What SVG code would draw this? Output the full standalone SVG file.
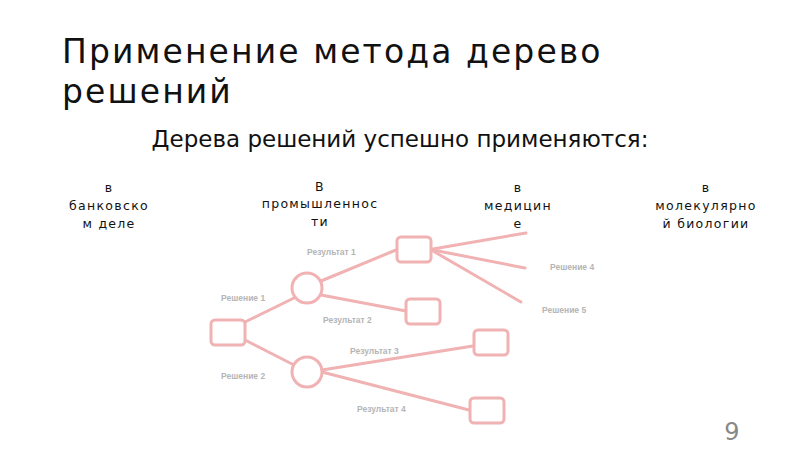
<svg xmlns="http://www.w3.org/2000/svg" width="800" height="449" viewBox="0 0 800 449">
<style>
.t{font-family:"DejaVu Sans","Liberation Sans",sans-serif;fill:#111}
.c{font-family:"DejaVu Sans",sans-serif;font-size:12.5px;fill:#111;text-anchor:middle;letter-spacing:1.3px}
.s{font-family:"Liberation Sans",sans-serif;font-size:8.5px;font-weight:bold;fill:#b5b5b5}
.n{fill:#fff;stroke:#f0b2b2;stroke-width:3}
.e{stroke:#f0b2b2;stroke-width:3;fill:none;stroke-linecap:round}
</style>
<rect width="800" height="449" fill="#fff"/>
<g id="title">
<text class="t" x="62" y="63" font-size="33" letter-spacing="2.1">Применение метода дерево</text>
<text class="t" x="62" y="103" font-size="33" letter-spacing="2.1">решений</text>
</g>
<text class="t" x="400" y="147" font-size="23" text-anchor="middle">Дерева решений успешно применяются:</text>
<g id="areas">
<text class="c" x="109" y="192">в</text>
<text class="c" x="109" y="210">банковско</text>
<text class="c" x="109" y="228">м деле</text>
<text class="c" x="320" y="191">В</text>
<text class="c" x="320" y="208">промышленнос</text>
<text class="c" x="320" y="226">ти</text>
<text class="c" x="518" y="192">в</text>
<text class="c" x="518" y="210">медицин</text>
<text class="c" x="518" y="228">е</text>
<text class="c" x="706" y="192">в</text>
<text class="c" x="706" y="210">молекулярно</text>
<text class="c" x="706" y="228">й биологии</text>
</g>
<g id="connectors">
<line class="e" x1="245" y1="322" x2="296" y2="297"/>
<line class="e" x1="245" y1="340" x2="294" y2="365"/>
<line class="e" x1="321" y1="281" x2="396" y2="250"/>
<line class="e" x1="321" y1="295" x2="406" y2="311"/>
<line class="e" x1="322" y1="370" x2="473" y2="346"/>
<line class="e" x1="322" y1="372" x2="469" y2="410"/>
<line class="e" x1="433" y1="249" x2="526" y2="233"/>
<line class="e" x1="433" y1="250" x2="525" y2="268"/>
<line class="e" x1="433" y1="251" x2="521" y2="302"/>
</g>
<g id="root"><rect class="n" x="211" y="320" width="34" height="25" rx="4"/></g>
<g id="chance1"><circle class="n" cx="307" cy="288" r="15"/></g>
<g id="chance2"><circle class="n" cx="307" cy="372" r="15"/></g>
<g id="dec2"><rect class="n" x="397" y="237" width="34" height="25" rx="4"/></g>
<g id="end1"><rect class="n" x="406" y="299" width="34" height="25" rx="4"/></g>
<g id="end2"><rect class="n" x="474" y="330" width="34" height="25" rx="4"/></g>
<g id="end3"><rect class="n" x="470" y="398" width="34" height="25" rx="4"/></g>
<g id="labels">
<text class="s" x="307" y="255">Результат 1</text>
<text class="s" x="221" y="301">Решение 1</text>
<text class="s" x="323" y="323">Результат 2</text>
<text class="s" x="350" y="354">Результат 3</text>
<text class="s" x="221" y="379">Решение 2</text>
<text class="s" x="357" y="412">Результат 4</text>
<text class="s" x="550" y="270">Решение 4</text>
<text class="s" x="542" y="313">Решение 5</text>
</g>
<text x="732" y="440" font-family="DejaVu Sans,sans-serif" font-size="24" fill="#888" text-anchor="middle">9</text>
</svg>
